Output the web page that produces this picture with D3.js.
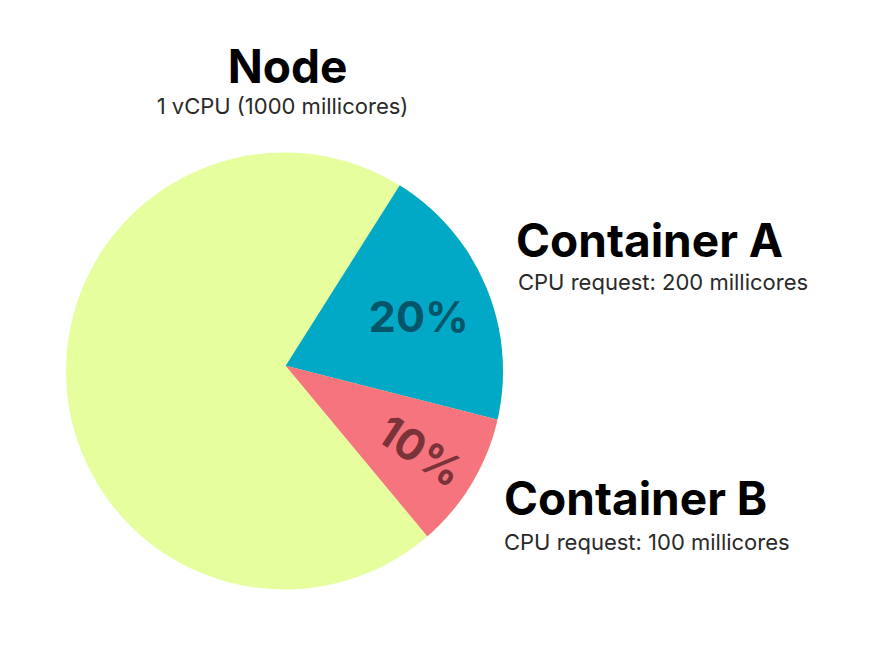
<!DOCTYPE html>
<html>
<head>
<meta charset="utf-8">
<script src="https://cdn.jsdelivr.net/npm/d3@7/dist/d3.min.js"></script>
<style>
  html, body { margin: 0; padding: 0; background: #ffffff; }
  svg { display: block; font-family: Inter, "Noto Sans", sans-serif; }
</style>
</head>
<body>
<svg id="chart" width="880" height="660"></svg>
<script>
// ---- data ----
const nodeName = "Node";
const nodeSubtitle = "1 vCPU (1000 millicores)";
const nodeCapacity = 1000;
const containers = ["Container A", "Container B"];
const containerRequests = [200, 100];
const containerSubtitles = ["CPU request: 200 millicores", "CPU request: 100 millicores"];
const percentLabels = ["20%", "10%"];

// ---- styles ----
const sliceColors = ["#02a9c6", "#f6747e"];
const labelColors = ["#03566a", "#7b333a"];
const nodeColor = "#e6fe9e";

const svg = d3.select("#chart");

const circleCx = 284.5, circleCy = 371, circleR = 218.5;
const apexX = 285.7, apexY = 365.7;

svg.append("defs").append("clipPath").attr("id", "nodeClip")
  .append("circle").attr("cx", circleCx).attr("cy", circleCy).attr("r", circleR);

svg.append("circle")
  .attr("cx", circleCx).attr("cy", circleCy).attr("r", circleR)
  .attr("fill", nodeColor);

const remaining = nodeCapacity - d3.sum(containerRequests);
const pieData = containerRequests.concat([remaining]);

const a0 = 32.3 * Math.PI / 180;
const pie = d3.pie().sort(null).value(d => d)
  .startAngle(a0).endAngle(a0 + 2 * Math.PI);
const arcs = pie(pieData);

const arc = d3.arc().innerRadius(0).outerRadius(260);

const g = svg.append("g").attr("clip-path", "url(#nodeClip)")
  .append("g").attr("transform", `translate(${apexX},${apexY})`);

g.selectAll("path.slice")
  .data(arcs.slice(0, containers.length))
  .join("path")
  .attr("class", "slice")
  .attr("d", arc)
  .attr("fill", (d, i) => sliceColors[i]);

// percent labels
const labelRadii = [141, 160];
const labelRot = [0, 33];
const lg = svg.append("g").attr("transform", `translate(${apexX},${apexY})`);
arcs.slice(0, containers.length).forEach((d, i) => {
  const la = d3.arc().innerRadius(labelRadii[i]).outerRadius(labelRadii[i]);
  const [x, y] = la.centroid(d);
  lg.append("text")
    .attr("transform", `translate(${x + (i === 0 ? 2 : 0)},${y + (i === 0 ? 3 : 0)}) rotate(${labelRot[i]})`)
    .attr("text-anchor", "middle")
    .attr("dy", "0.36em")
    .attr("font-size", 43)
    .attr("font-weight", 700)
    .attr("fill", labelColors[i])
    .text(percentLabels[i]);
});

// node title
svg.append("text")
  .attr("x", 287.5).attr("y", 83)
  .attr("text-anchor", "middle")
  .attr("font-size", 46).attr("font-weight", 700)
  .attr("fill", "#000")
  .text(nodeName);
svg.append("text")
  .attr("x", 282.5).attr("y", 114)
  .attr("text-anchor", "middle")
  .attr("font-size", 22).attr("font-weight", 400)
  .attr("fill", "#2a2a2a")
  .text(nodeSubtitle);

// container titles
const titlePos = [[516, 257, 518, 290], [504, 515, 504, 550]];
containers.forEach((c, i) => {
  svg.append("text")
    .attr("x", titlePos[i][0]).attr("y", titlePos[i][1])
    .attr("font-size", 46).attr("font-weight", 700)
    .attr("fill", "#000")
    .text(c);
  svg.append("text")
    .attr("x", titlePos[i][2]).attr("y", titlePos[i][3])
    .attr("font-size", 22).attr("font-weight", 400)
    .attr("fill", "#2a2a2a")
    .text(containerSubtitles[i]);
});
</script>
</body>
</html>
